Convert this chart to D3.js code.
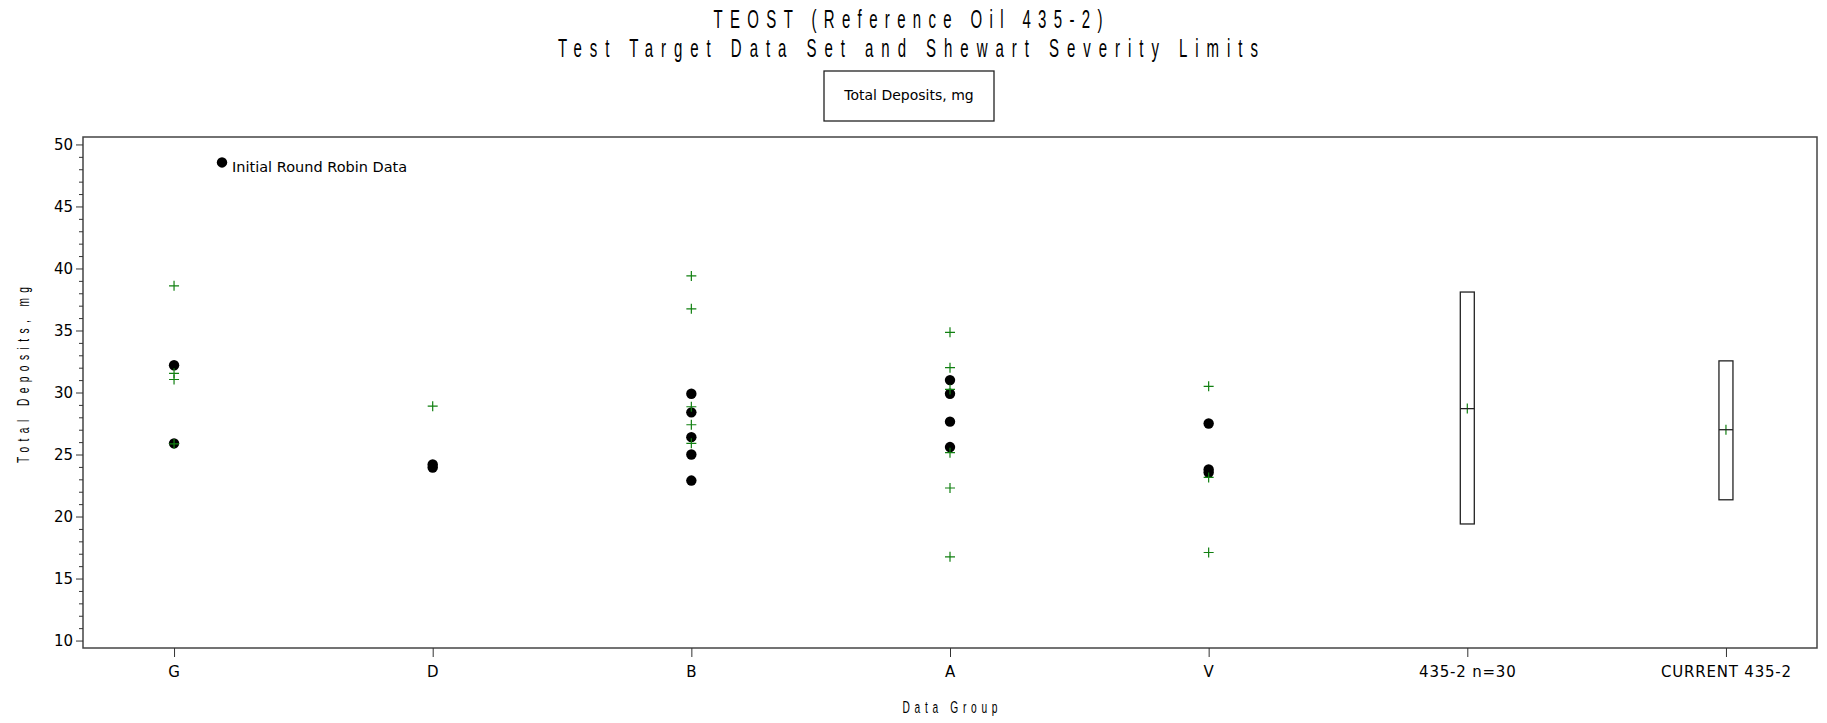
<!DOCTYPE html>
<html>
<head>
<meta charset="utf-8">
<script src="https://cdn.jsdelivr.net/npm/d3@7"></script>
<style>
  body { margin: 0; background: #fff; }
  text { fill: #000; }
  .title { font-family: "Liberation Sans", Arial, sans-serif; }
  .lbl { font-family: "DejaVu Sans", Verdana, sans-serif; }
</style>
</head>
<body>
<div id="chart"></div>
<script>
/**
 * DATA
 * */
const groups = ["G", "D", "B", "A", "V", "435-2 n=30", "CURRENT 435-2"];
const yTicks = [10, 15, 20, 25, 30, 35, 40, 45, 50];

// black dots: initial round robin data
const rrGroup = ["G", "G", "D", "D", "B", "B", "B", "B", "B", "A", "A", "A", "A", "V", "V", "V"];
const rrValue = [32.2, 25.9, 24.2, 23.95, 29.9, 28.4, 26.4, 25.0, 22.9, 31.0, 29.9, 27.65, 25.6, 27.5, 23.8, 23.55];

// green plus: test target data
const tGroup = ["G", "G", "G", "G", "D", "B", "B", "B", "B", "B", "A", "A", "A", "A", "A", "A", "V", "V", "V"];
const tValue = [38.6, 31.55, 31.05, 25.85, 28.9, 39.4, 36.75, 28.85, 27.4, 25.9, 34.85, 32.0, 30.25, 25.15, 22.3, 16.75, 30.5, 23.15, 17.1];

// shewhart severity limits
const limGroup = ["435-2 n=30", "CURRENT 435-2"];
const limLow = [19.4, 21.35];
const limHigh = [38.1, 32.55];
const limMean = [28.7, 27.0];

/**
 * LAYOUT
 * */
const width = 1827, height = 723,
  margin = { top: 137, bottom: 75, left: 83, right: 10 };
const green = "#118011";
const squeeze = 0.6; // the SAS title font is tall and narrow

const svg = d3.select("#chart")
  .append("svg")
  .attr("width", width)
  .attr("height", height);

const x = d3.scalePoint()
  .domain(groups)
  .range([margin.left, width - margin.right])
  .padding(0.352);

const y = d3.scaleLinear()
  .domain([9.4, 50.6])
  .range([height - margin.bottom, margin.top]);

// narrow spaced text, like the SAS hardware font
function narrowText(tx, ty, rot, size, len, str) {
  svg.append("g")
    .attr("transform", `translate(${tx},${ty}) rotate(${rot}) scale(${squeeze},1)`)
    .append("text").attr("class", "title")
    .attr("text-anchor", "middle")
    .attr("font-size", size)
    .attr("textLength", len / squeeze).attr("lengthAdjust", "spacing")
    .text(str);
}

// titles
narrowText(908, 28, 0, 25, 389, "TEOST (Reference Oil 435-2)");
narrowText(908, 57, 0, 25, 700, "Test Target Data Set and Shewart Severity Limits");

// box with response name
svg.append("rect")
  .attr("x", 824).attr("y", 71).attr("width", 170).attr("height", 50)
  .attr("fill", "none").attr("stroke", "#222").attr("stroke-width", 1.3);
svg.append("text").attr("class", "lbl")
  .attr("x", 909).attr("y", 100)
  .attr("text-anchor", "middle").attr("font-size", 14)
  .text("Total Deposits, mg");

// frame
svg.append("rect")
  .attr("x", margin.left).attr("y", margin.top)
  .attr("width", width - margin.left - margin.right)
  .attr("height", height - margin.top - margin.bottom)
  .attr("fill", "none").attr("stroke", "#444").attr("stroke-width", 1.5);

// y axis
const yAxis = svg.append("g")
  .attr("transform", `translate(${margin.left},0)`)
  .call(d3.axisLeft(y).tickValues(yTicks).tickSize(7).tickPadding(3));
yAxis.select(".domain").remove();
yAxis.selectAll("line").attr("stroke", "#333");
yAxis.selectAll("text").attr("font-size", 15).attr("font-family", "DejaVu Sans, sans-serif");

svg.append("g")
  .attr("transform", `translate(${margin.left},0)`)
  .call(d3.axisLeft(y).tickValues(d3.range(11, 50).filter(d => d % 5 !== 0)).tickSize(4).tickFormat(""))
  .call(g => g.select(".domain").remove())
  .selectAll("line").attr("stroke", "#333");

// x axis
const xAxis = svg.append("g")
  .attr("transform", `translate(0,${height - margin.bottom})`)
  .call(d3.axisBottom(x).tickSize(9).tickPadding(9));
xAxis.select(".domain").remove();
xAxis.selectAll("line").attr("stroke", "#333");
xAxis.selectAll("text")
  .attr("font-size", 15)
  .attr("font-family", "DejaVu Sans, sans-serif")
  .attr("letter-spacing", 0.8);

// axis titles
narrowText((margin.left + width - margin.right) / 2, 713, 0, 17, 95, "Data Group");
narrowText(29, 375, -90, 17, 176, "Total Deposits, mg");

// limit boxes
const lims = limGroup.map((g, i) => ({ g, lo: limLow[i], hi: limHigh[i], m: limMean[i] }));
svg.selectAll("rect.lim")
  .data(lims)
  .join("rect")
  .attr("class", "lim")
  .attr("x", d => x(d.g) - 7)
  .attr("width", 14)
  .attr("y", d => y(d.hi))
  .attr("height", d => y(d.lo) - y(d.hi))
  .attr("fill", "none").attr("stroke", "#222").attr("stroke-width", 1.3);
svg.selectAll("path.mean")
  .data(lims)
  .join("path")
  .attr("class", "mean")
  .attr("d", d => `M${x(d.g)},${y(d.m) - 5}V${y(d.m) + 5}`)
  .attr("stroke", green).attr("stroke-width", 1.2);
svg.selectAll("line.mean")
  .data(lims)
  .join("line")
  .attr("class", "mean")
  .attr("x1", d => x(d.g) - 7).attr("x2", d => x(d.g) + 7)
  .attr("y1", d => y(d.m)).attr("y2", d => y(d.m))
  .attr("stroke", "#222").attr("stroke-width", 1.3);

// round robin dots
svg.selectAll("circle.rr")
  .data(rrGroup.map((g, i) => ({ g, v: rrValue[i] })))
  .join("circle")
  .attr("class", "rr")
  .attr("cx", d => x(d.g))
  .attr("cy", d => y(d.v))
  .attr("r", 5.2)
  .attr("fill", "#000");

// test target plus signs
svg.selectAll("path.tt")
  .data(tGroup.map((g, i) => ({ g, v: tValue[i] })))
  .join("path")
  .attr("class", "tt")
  .attr("d", d => `M${x(d.g) - 5},${y(d.v)}H${x(d.g) + 5}M${x(d.g)},${y(d.v) - 5}V${y(d.v) + 5}`)
  .attr("stroke", green).attr("stroke-width", 1.2).attr("fill", "none");

// legend for the dots
svg.append("circle")
  .attr("cx", 222).attr("cy", y(48.55)).attr("r", 5.2).attr("fill", "#000");
svg.append("text").attr("class", "lbl")
  .attr("x", 232).attr("y", 172)
  .attr("font-size", 14.5)
  .text("Initial Round Robin Data");
</script>
</body>
</html>
